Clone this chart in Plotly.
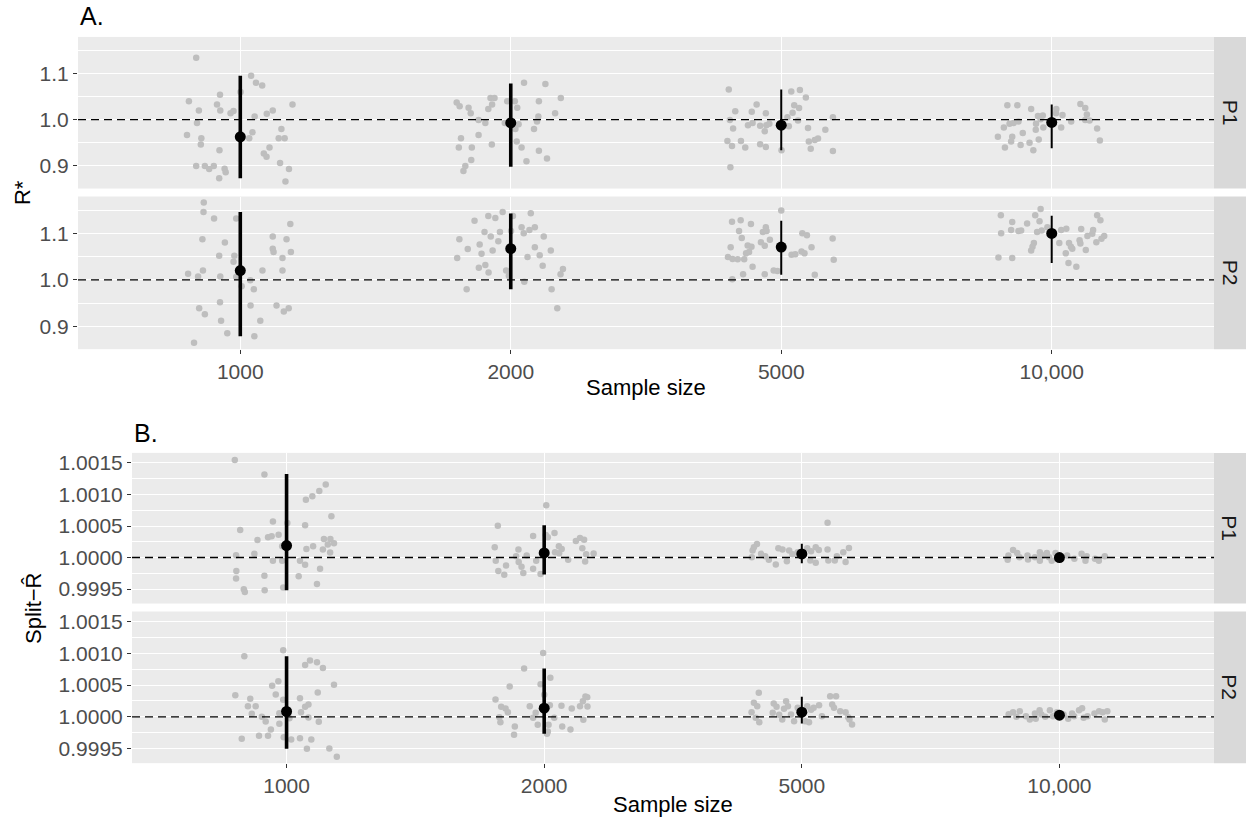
import plotly.graph_objects as go

# ---------------- data ----------------
SAMPLE_SIZES = ["1000", "2000", "5000", "10,000"]

# (jitter offset from category, value) for each replicate
A_P1_1000 = [(-0.163,1.134),(0.040,1.095),(0.058,1.080),(0.081,1.074),(0.001,1.060),(-0.075,1.054),(-0.190,1.040),(-0.086,1.033),(0.193,1.033),(-0.153,1.020),(-0.074,1.020),(-0.036,1.014),(-0.025,1.019),(0.120,1.020),(0.098,1.013),(0.053,1.007),(-0.160,0.993),(-0.197,0.967),(-0.144,0.960),(0.045,0.973),(0.033,0.960),(0.152,0.980),(0.142,0.960),(0.164,0.960),(-0.146,0.946),(-0.077,0.934),(0.108,0.940),(0.087,0.927),(0.097,0.920),(-0.163,0.900),(-0.131,0.900),(-0.115,0.893),(-0.098,0.900),(-0.058,0.894),(-0.054,0.886),(-0.078,0.873),(0.147,0.906),(0.180,0.893),(0.167,0.866)]
A_P1_2000 = [(0.049,1.080),(0.128,1.077),(-0.200,1.037),(-0.189,1.029),(-0.156,1.026),(-0.148,1.014),(-0.075,1.047),(-0.060,1.047),(-0.069,1.033),(-0.083,1.023),(-0.013,1.040),(0.015,1.040),(0.024,1.026),(0.104,1.040),(0.185,1.047),(0.164,1.014),(0.102,1.007),(0.097,0.996),(-0.119,0.999),(-0.094,0.993),(-0.022,0.993),(0.017,0.980),(0.029,0.990),(0.086,0.980),(-0.184,0.960),(-0.119,0.967),(-0.192,0.940),(-0.144,0.940),(-0.070,0.946),(0.022,0.953),(0.040,0.940),(0.104,0.933),(-0.146,0.913),(-0.168,0.900),(-0.175,0.889),(0.058,0.910),(0.134,0.916)]
A_P1_5000 = [(-0.194,1.065),(0.037,1.061),(0.069,1.064),(0.091,1.048),(-0.091,1.033),(-0.170,1.018),(-0.109,1.017),(-0.057,1.014),(0.048,1.031),(0.066,1.025),(0.042,1.015),(0.023,1.005),(-0.190,0.999),(0.191,1.005),(-0.123,0.988),(-0.106,0.993),(-0.078,0.987),(-0.055,0.988),(-0.044,0.991),(-0.178,0.981),(-0.061,0.975),(0.028,0.986),(0.062,0.998),(0.099,0.982),(0.163,0.978),(-0.199,0.954),(-0.149,0.954),(-0.182,0.943),(-0.133,0.940),(-0.078,0.947),(-0.057,0.941),(0.102,0.953),(0.124,0.956),(0.136,0.959),(0.001,0.934),(0.109,0.937),(0.191,0.932),(-0.188,0.897)]
A_P1_10000 = [(-0.164,1.031),(-0.127,1.031),(-0.076,1.023),(-0.051,1.008),(-0.033,1.009),(0.017,1.023),(0.016,1.014),(0.040,1.010),(0.106,1.034),(0.124,1.025),(0.130,1.011),(0.072,0.996),(0.124,0.999),(0.140,0.998),(-0.156,0.991),(-0.123,0.996),(-0.177,0.983),(-0.141,0.993),(-0.058,0.991),(-0.059,0.978),(-0.031,0.983),(0.035,0.983),(0.168,0.981),(-0.199,0.963),(-0.146,0.963),(-0.107,0.971),(-0.150,0.953),(-0.048,0.957),(-0.173,0.940),(-0.115,0.945),(-0.082,0.950),(-0.068,0.934),(0.178,0.955),(-0.041,1.001)]

A_P2_1000 = [(-0.135,1.166),(-0.136,1.146),(-0.097,1.132),(-0.015,1.132),(0.185,1.120),(-0.140,1.087),(-0.057,1.080),(0.120,1.093),(0.171,1.087),(0.120,1.067),(0.123,1.060),(0.187,1.060),(-0.078,1.052),(-0.022,1.052),(-0.025,1.039),(0.156,1.047),(-0.193,1.013),(-0.156,1.007),(-0.138,1.020),(-0.074,1.007),(-0.015,1.006),(0.082,1.020),(0.156,1.020),(0.037,0.999),(0.005,0.986),(0.050,0.980),(-0.075,0.952),(0.038,0.945),(0.134,0.945),(0.161,0.932),(0.179,0.939),(-0.152,0.939),(-0.131,0.926),(-0.071,0.912),(0.074,0.912),(-0.048,0.885),(0.052,0.879),(-0.171,0.865)]
A_P2_2000 = [(-0.030,1.146),(0.008,1.137),(0.074,1.143),(-0.083,1.137),(-0.057,1.133),(-0.134,1.127),(0.040,1.113),(0.069,1.107),(0.089,1.113),(0.048,1.100),(0.001,1.105),(-0.097,1.103),(-0.074,1.093),(-0.040,1.103),(-0.046,1.083),(0.122,1.093),(-0.190,1.087),(-0.115,1.076),(-0.159,1.066),(-0.108,1.056),(-0.067,1.063),(0.089,1.070),(0.107,1.053),(0.148,1.063),(0.062,1.049),(-0.198,1.047),(-0.094,1.032),(-0.118,1.026),(-0.082,1.016),(-0.017,1.020),(-0.007,1.009),(0.118,1.030),(0.193,1.023),(0.184,1.012),(0.050,0.996),(-0.163,0.980),(0.151,0.980),(0.172,0.939)]
A_P2_5000 = [(0.000,1.149),(-0.182,1.125),(-0.150,1.128),(-0.112,1.120),(-0.156,1.105),(-0.146,1.090),(-0.068,1.103),(-0.054,1.105),(-0.057,1.113),(-0.075,1.081),(-0.061,1.073),(-0.042,1.086),(-0.124,1.074),(-0.110,1.071),(-0.119,1.060),(-0.130,1.057),(-0.187,1.070),(-0.197,1.049),(-0.180,1.045),(-0.161,1.044),(-0.137,1.044),(-0.106,1.028),(-0.141,1.012),(-0.181,1.001),(-0.061,1.012),(-0.028,1.020),(-0.014,1.019),(0.038,1.054),(0.052,1.055),(0.075,1.061),(0.086,1.057),(0.078,1.100),(0.095,1.096),(0.112,1.070),(0.124,1.011),(0.190,1.089),(0.194,1.043)]
A_P2_10000 = [(-0.188,1.139),(-0.041,1.152),(-0.061,1.139),(-0.045,1.126),(-0.146,1.124),(-0.091,1.121),(0.168,1.139),(0.180,1.128),(-0.187,1.100),(-0.150,1.107),(-0.123,1.105),(-0.113,1.106),(-0.054,1.103),(-0.037,1.106),(-0.016,1.113),(0.035,1.107),(0.054,1.110),(0.109,1.109),(0.153,1.107),(0.150,1.099),(0.132,1.094),(0.194,1.094),(0.184,1.088),(0.165,1.081),(0.028,1.079),(-0.066,1.079),(-0.071,1.071),(-0.076,1.063),(0.064,1.079),(0.071,1.071),(0.103,1.085),(0.106,1.078),(0.076,1.067),(0.126,1.064),(0.052,1.057),(0.062,1.036),(0.091,1.028),(-0.197,1.048),(-0.146,1.047)]

B_P1_1000 = [(-0.201,1.001548),(-0.086,1.001317),(0.152,1.001159),(0.127,1.001055),(0.100,1.000971),(0.075,1.000918),(0.174,1.000656),(-0.053,1.000572),(0.003,1.000546),(0.072,1.000514),(-0.180,1.000435),(-0.113,1.000278),(-0.072,1.000320),(-0.058,1.000336),(-0.031,1.000362),(0.145,1.000294),(0.170,1.000294),(0.160,1.000205),(0.184,1.000226),(0.141,1.000126),(0.103,1.000178),(0.077,1.000136),(-0.017,1.000178),(-0.196,1.000037),(-0.125,1.000058),(-0.053,0.999948),(-0.017,0.999948),(0.169,1.000079),(0.052,0.999948),(0.072,0.999885),(0.130,0.999822),(-0.195,0.999785),(-0.196,0.999669),(-0.086,0.999711),(0.047,0.999701),(0.118,0.999580),(-0.166,0.999496),(-0.162,0.999454),(-0.085,0.999481),(-0.013,0.999523)]
B_P1_2000 = [(0.008,1.000829),(-0.180,1.000504),(0.040,1.000388),(-0.043,1.000341),(0.006,1.000357),(0.014,1.000320),(0.123,1.000262),(0.139,1.000310),(0.155,1.000283),(-0.192,1.000163),(-0.100,1.000126),(0.057,1.000178),(0.068,1.000136),(0.042,1.000084),(0.058,1.000068),(0.148,1.000147),(0.163,1.000052),(0.192,1.000063),(-0.188,0.999948),(-0.109,1.000021),(-0.068,1.000031),(-0.099,0.999927),(-0.088,0.999853),(-0.148,0.999874),(-0.031,0.999948),(-0.043,0.999822),(-0.081,0.999753),(-0.178,0.999785),(-0.155,0.999727),(-0.014,0.999738),(0.093,0.999963),(0.159,0.999937)]
B_P1_5000 = [(0.100,1.000551),(-0.174,1.000215),(-0.186,1.000163),(-0.191,1.000110),(-0.194,1.000005),(-0.158,1.000058),(-0.142,1.000021),(-0.128,0.999963),(-0.101,0.999890),(-0.091,1.000147),(-0.075,1.000126),(-0.058,0.999942),(-0.049,1.000110),(-0.036,1.000052),(-0.016,1.000084),(0.021,1.000147),(0.036,1.000100),(0.054,1.000163),(0.066,1.000121),(0.033,0.999953),(0.054,0.999916),(0.100,1.000126),(0.103,0.999953),(0.128,0.999953),(0.170,0.999927),(0.161,1.000084),(0.183,1.000152),(0.136,1.000021)]
B_P1_10000 = [(-0.180,1.000121),(-0.164,1.000073),(-0.198,1.000031),(-0.201,0.999963),(-0.155,1.000005),(-0.124,1.000031),(-0.122,0.999969),(-0.095,1.000005),(-0.076,1.000084),(-0.076,0.999948),(-0.063,1.000031),(-0.049,1.000073),(-0.040,1.000005),(-0.030,0.999948),(-0.015,1.000073),(0.030,1.000031),(0.058,0.999979),(0.086,1.000058),(0.101,0.999948),(0.106,1.000021),(0.138,0.999979),(0.153,0.999948),(0.176,1.000021),(-0.077,1.000005)]

B_P2_1000 = [(-0.013,1.001049),(-0.164,1.000955),(0.091,1.000887),(0.072,1.000818),(0.118,1.000860),(0.141,1.000771),(0.184,1.000504),(-0.032,1.000561),(-0.056,1.000488),(-0.199,1.000341),(-0.042,1.000352),(-0.141,1.000283),(-0.013,1.000268),(0.052,1.000294),(0.121,1.000383),(-0.150,1.000168),(-0.120,1.000168),(0.085,1.000194),(0.072,1.000157),(-0.135,1.000047),(-0.096,1.000000),(-0.081,0.999927),(-0.028,1.000058),(0.056,1.000073),(0.011,0.999979),(0.085,0.999990),(0.125,0.999921),(-0.028,0.999890),(-0.061,0.999801),(-0.107,0.999701),(-0.072,0.999701),(-0.011,0.999680),(0.018,0.999643),(0.052,0.999664),(0.096,0.999643),(-0.174,0.999654),(0.079,0.999496),(0.166,0.999502),(0.195,0.999370)]
B_P2_2000 = [(-0.004,1.001007),(-0.078,1.000761),(0.024,1.000614),(-0.134,1.000477),(-0.014,1.000514),(0.000,1.000346),(-0.189,1.000273),(-0.056,1.000168),(0.022,1.000184),(0.067,1.000173),(0.107,1.000131),(0.139,1.000168),(0.150,1.000247),(0.160,1.000320),(0.167,1.000310),(0.168,1.000163),(-0.167,1.000157),(-0.150,1.000131),(-0.141,1.000073),(-0.174,0.999995),(-0.170,0.999916),(-0.043,0.999984),(-0.033,1.000063),(-0.025,0.999874),(0.017,0.999874),(0.014,0.999769),(0.011,0.999732),(0.039,0.999984),(0.070,0.999848),(0.102,0.999801),(0.152,0.999953),(-0.114,0.999848),(-0.117,0.999717)]
B_P2_5000 = [(-0.167,1.000378),(-0.186,1.000220),(-0.173,1.000168),(-0.195,1.000073),(-0.179,0.999984),(-0.165,0.999916),(-0.109,1.000210),(-0.098,1.000157),(-0.113,1.000063),(-0.088,1.000031),(-0.076,0.999958),(-0.061,1.000247),(-0.069,1.000126),(-0.054,1.000168),(-0.042,1.000037),(-0.030,0.999932),(-0.016,1.000142),(0.013,0.999932),(0.028,0.999916),(0.021,1.000168),(0.036,1.000110),(0.046,1.000142),(0.067,1.000184),(0.078,1.000010),(0.110,1.000325),(0.133,1.000325),(0.118,1.000194),(0.125,1.000142),(0.149,1.000089),(0.170,1.000073),(0.180,0.999995),(0.185,0.999958),(0.195,0.999879)]
B_P2_10000 = [(-0.197,1.000042),(-0.180,1.000073),(-0.167,1.000000),(-0.154,1.000089),(-0.130,1.000010),(-0.115,0.999958),(-0.095,1.000052),(-0.077,1.000105),(-0.070,1.000037),(-0.055,1.000000),(-0.037,1.000105),(-0.025,1.000010),(-0.010,1.000073),(0.016,1.000037),(0.034,0.999969),(0.049,1.000052),(0.057,1.000010),(0.076,1.000105),(0.088,1.000136),(0.094,0.999984),(0.109,1.000010),(0.136,1.000052),(0.154,1.000089),(0.168,1.000073),(0.176,0.999958),(0.186,1.000089),(-0.092,0.999969)]

# summary: mean and interval per sample size
A_P1_MEAN = [0.963, 0.993, 0.988, 0.994]
A_P1_LOW = [0.873, 0.898, 0.934, 0.938]
A_P1_HIGH = [1.095, 1.078, 1.065, 1.033]
A_P2_MEAN = [1.020, 1.067, 1.0705, 1.0996]
A_P2_LOW = [0.879, 0.980, 1.011, 1.036]
A_P2_HIGH = [1.146, 1.1425, 1.127, 1.1375]
B_P1_MEAN = [1.000189, 1.0000735, 1.0000577, 1.000000]
B_P1_LOW = [0.999481, 0.999732, 0.999910, 0.999985]
B_P1_HIGH = [1.001327, 1.000514, 1.000220, 1.000015]
B_P2_MEAN = [1.0000839, 1.000136, 1.0000735, 1.000026]
B_P2_LOW = [0.999496, 0.999732, 0.999895, 1.000008]
B_P2_HIGH = [1.000955, 1.000761, 1.000315, 1.000044]

REF_VALUE = 1.0
A_TICKS = [0.9, 1.0, 1.1]
A_MINOR = [0.95, 1.05, 1.15]
B_TICKS = [0.9995, 1.0, 1.0005, 1.0010, 1.0015]
B_MINOR = [0.99975, 1.00025, 1.00075, 1.00125]

# ---------------- layout / style ----------------
W, H = 1249, 822
FONT = "Liberation Sans, Arial, Helvetica, sans-serif"
BG = "#EBEBEB"
GREY_PT = "#BEBEBE"
BAR_W = [3.6, 3.6, 2.0, 2.0]


def fx(px):
    return px / W


def fy(px):
    return 1 - px / H


PANEL_RIGHT = 1214
STRIP_RIGHT = 1246

panels = [
    dict(ax="", left=78, top=35, bot=187, label="P1", bottom=False, plot="A",
         clusters=[A_P1_1000, A_P1_2000, A_P1_5000, A_P1_10000],
         mean=A_P1_MEAN, low=A_P1_LOW, high=A_P1_HIGH),
    dict(ax="2", left=78, top=195, bot=348, label="P2", bottom=True, plot="A",
         clusters=[A_P2_1000, A_P2_2000, A_P2_5000, A_P2_10000],
         mean=A_P2_MEAN, low=A_P2_LOW, high=A_P2_HIGH),
    dict(ax="3", left=132, top=452, bot=603, label="P1", bottom=False, plot="B",
         clusters=[B_P1_1000, B_P1_2000, B_P1_5000, B_P1_10000],
         mean=B_P1_MEAN, low=B_P1_LOW, high=B_P1_HIGH),
    dict(ax="4", left=132, top=611, bot=763, label="P2", bottom=True, plot="B",
         clusters=[B_P2_1000, B_P2_2000, B_P2_5000, B_P2_10000],
         mean=B_P2_MEAN, low=B_P2_LOW, high=B_P2_HIGH),
]

fig = go.Figure()
shapes = []
annotations = []
layout = dict(
    width=W, height=H, autosize=False,
    margin=dict(l=0, r=0, t=0, b=0, pad=0),
    paper_bgcolor="white", plot_bgcolor=BG,
    showlegend=False,
    font=dict(family=FONT, color="black"),
)

for p in panels:
    xa = "x" + p["ax"]
    ya = "y" + p["ax"]
    # jittered replicate points
    xs, ys = [], []
    for k, cl in enumerate(p["clusters"]):
        for j, v in cl:
            xs.append(k + 1 + j)
            ys.append(v)
    fig.add_trace(go.Scatter(x=xs, y=ys, mode="markers", xaxis=xa, yaxis=ya,
                             marker=dict(color=GREY_PT, size=6.5, line=dict(width=0)),
                             hoverinfo="skip"))
    # pointranges
    for k in range(4):
        m = p["mean"][k]
        fig.add_trace(go.Scatter(
            x=[k + 1], y=[m], mode="markers", xaxis=xa, yaxis=ya,
            marker=dict(color="black", size=11, line=dict(width=0)),
            error_y=dict(type="data", symmetric=False,
                         array=[p["high"][k] - m], arrayminus=[m - p["low"][k]],
                         width=0, thickness=BAR_W[k], color="black"),
            hoverinfo="skip"))
    # reference dashed line
    shapes.append(dict(type="line", xref=xa + " domain", yref=ya, x0=0, x1=1,
                       y0=REF_VALUE, y1=REF_VALUE, layer="above",
                       line=dict(color="black", width=1.3, dash="8px,5px")))
    # strip
    shapes.append(dict(type="rect", xref="paper", yref="paper",
                       x0=fx(PANEL_RIGHT), x1=fx(STRIP_RIGHT),
                       y0=fy(p["bot"]), y1=fy(p["top"]),
                       fillcolor="#D9D9D9", line=dict(width=0), layer="below"))
    annotations.append(dict(xref="paper", yref="paper",
                            x=fx((PANEL_RIGHT + STRIP_RIGHT) / 2),
                            y=fy((p["top"] + p["bot"]) / 2),
                            xanchor="center", yanchor="middle",
                            text=p["label"], showarrow=False, textangle=90,
                            font=dict(size=21, color="#1A1A1A", family=FONT)))

    xkey = "xaxis" + p["ax"]
    ykey = "yaxis" + p["ax"]
    layout[xkey] = dict(
        domain=[fx(p["left"]), fx(PANEL_RIGHT)], anchor=ya,
        range=[0.4, 4.6], tickmode="array", tickvals=[1, 2, 3, 4],
        ticktext=SAMPLE_SIZES, showgrid=True, gridcolor="white", gridwidth=1.3,
        zeroline=False, showline=False,
        showticklabels=p["bottom"], ticks="outside" if p["bottom"] else "",
        ticklen=4, tickwidth=1, tickcolor="#333333",
        tickfont=dict(size=21, color="#4D4D4D", family=FONT),
    )
    if p["plot"] == "A":
        yr = [0.851, 1.179]
        tv, tt, mv = A_TICKS, [f"{v:.1f}" for v in A_TICKS], A_MINOR
    else:
        yr = [0.99927, 1.00166]
        tv, tt, mv = B_TICKS, [f"{v:.4f}" for v in B_TICKS], B_MINOR
    layout[ykey] = dict(
        domain=[fy(p["bot"]), fy(p["top"])], anchor=xa,
        range=yr, tickmode="array", tickvals=tv, ticktext=tt,
        showgrid=True, gridcolor="white", gridwidth=1.3,
        minor=dict(tickmode="array", tickvals=mv, showgrid=True,
                   gridcolor="white", gridwidth=0.7, ticks=""),
        zeroline=False, showline=False, ticks="outside",
        ticklen=4, tickwidth=1, tickcolor="#333333",
        tickfont=dict(size=21, color="#4D4D4D", family=FONT),
    )

# titles
annotations += [
    dict(xref="paper", yref="paper", x=fx(78), y=fy(14), xanchor="left", yanchor="middle",
         text="A.", showarrow=False, font=dict(size=25, family=FONT, color="black")),
    dict(xref="paper", yref="paper", x=fx(132), y=fy(432), xanchor="left", yanchor="middle",
         text="B.", showarrow=False, font=dict(size=25, family=FONT, color="black")),
    dict(xref="paper", yref="paper", x=fx((78 + PANEL_RIGHT) / 2), y=fy(386),
         xanchor="center", yanchor="middle", text="Sample size", showarrow=False,
         font=dict(size=22, family=FONT, color="black")),
    dict(xref="paper", yref="paper", x=fx((132 + PANEL_RIGHT) / 2), y=fy(804),
         xanchor="center", yanchor="middle", text="Sample size", showarrow=False,
         font=dict(size=22, family=FONT, color="black")),
    dict(xref="paper", yref="paper", x=fx(22), y=fy((35 + 348) / 2),
         xanchor="center", yanchor="middle", text="R*", showarrow=False, textangle=-90,
         font=dict(size=22, family=FONT, color="black")),
    dict(xref="paper", yref="paper", x=fx(33), y=fy((452 + 763) / 2),
         xanchor="center", yanchor="middle", text="Split\u2212R\u0302", showarrow=False,
         textangle=-90, font=dict(size=22, family=FONT, color="black")),
]

layout["shapes"] = shapes
layout["annotations"] = annotations
fig.update_layout(**layout)
fig.write_html("out.html")
